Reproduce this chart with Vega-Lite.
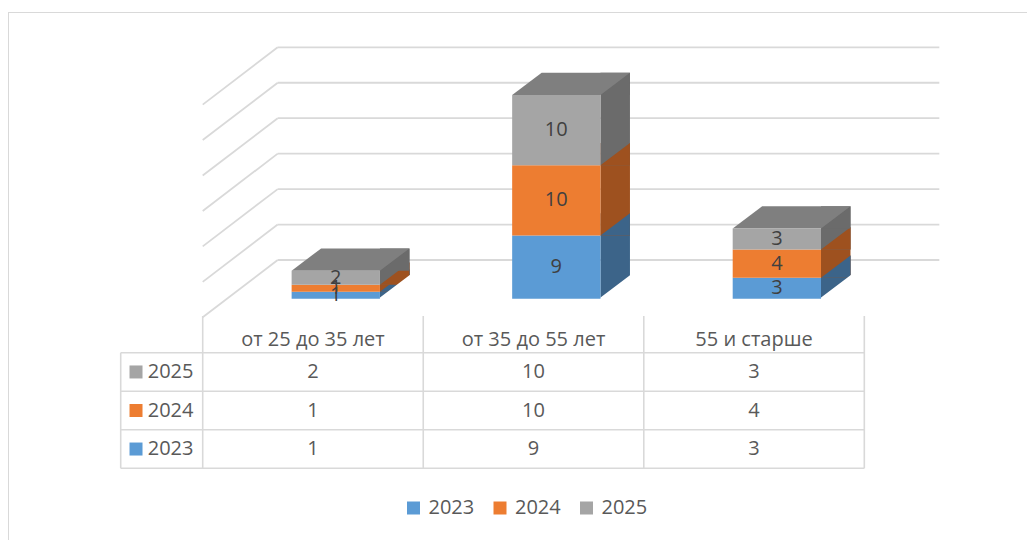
{
  "$schema": "https://vega.github.io/schema/vega-lite/v6.json",
  "width": 1019,
  "height": 528,
  "padding": {"left": 8, "top": 12, "right": 0, "bottom": 0},
  "autosize": {"type": "none"},
  "background": "white",
  "config": {"view": {"stroke": null}, "font": "Open Sans"},
  "datasets": {
    "bars": [
      {"cat": "от 25 до 35 лет", "year": "2023", "value": 1},
      {"cat": "от 25 до 35 лет", "year": "2024", "value": 1},
      {"cat": "от 25 до 35 лет", "year": "2025", "value": 2},
      {"cat": "от 35 до 55 лет", "year": "2023", "value": 9},
      {"cat": "от 35 до 55 лет", "year": "2024", "value": 10},
      {"cat": "от 35 до 55 лет", "year": "2025", "value": 10},
      {"cat": "55 и старше", "year": "2023", "value": 3},
      {"cat": "55 и старше", "year": "2024", "value": 4},
      {"cat": "55 и старше", "year": "2025", "value": 3}
    ],
    "grid": [{"v": 0}, {"v": 5}, {"v": 10}, {"v": 15}, {"v": 20}, {"v": 25}, {"v": 30}]
  },
  "resolve": {"scale": {"y": "independent", "color": "independent"}, "axis": {"y": "independent"}},
  "layer": [
    {
      "data": {"name": "grid"},
      "layer": [
        {
          "mark": {"type": "rule", "color": "#d9d9d9", "strokeWidth": 1.8, "xOffset": 75, "x2Offset": 75},
          "encoding": {
            "x": {"datum": "от 25 до 35 лет", "type": "nominal", "bandPosition": 0,
              "scale": {"type": "band", "domain": ["от 25 до 35 лет", "от 35 до 55 лет", "55 и старше"], "paddingInner": 0, "paddingOuter": 0.8103, "align": 0.5448},
              "axis": null},
            "x2": {"datum": "55 и старше", "bandPosition": 1},
            "y": {"field": "v", "type": "quantitative",
              "scale": {"domain": [-39.492, 34.979], "nice": false, "zero": false},
              "axis": {"orient": "left", "domain": true, "domainColor": "#d9d9d9", "domainWidth": 1, "ticks": false, "labels": false, "grid": false, "title": null}}
          }
        },
        {
          "mark": {"type": "rule", "color": "#d9d9d9", "strokeWidth": 1.8, "xOffset": 75, "y2Offset": 57.3},
          "encoding": {
            "x": {"datum": "от 25 до 35 лет", "type": "nominal", "bandPosition": 0, "axis": null},
            "x2": {"datum": "от 25 до 35 лет", "bandPosition": 0},
            "y": {"field": "v", "type": "quantitative", "scale": {"domain": [-39.492, 34.979], "nice": false, "zero": false}},
            "y2": {"field": "v"}
          }
        },
        {
          "transform": [{"filter": "datum.v == 0"}],
          "mark": {"type": "rule", "color": "#d9d9d9", "strokeWidth": 1},
          "encoding": {
            "y": {"datum": 34.9085, "type": "quantitative", "scale": {"domain": [-39.492, 34.979], "nice": false, "zero": false}}
          }
        }
      ]
    },
    {
      "data": {"name": "bars"},
      "transform": [
        {"stack": "value", "groupby": ["cat"], "sort": [{"field": "year", "order": "ascending"}], "as": ["y0", "y1"]}
      ],
      "resolve": {"scale": {"color": "independent"}},
      "layer": [
        {
          "mark": {"type": "bar", "width": 29.5, "xOffset": 81.7, "yOffset": -22.3},
          "encoding": {
            "x": {"field": "cat", "type": "nominal", "axis": null},
            "y": {"field": "y1", "type": "quantitative", "scale": {"domain": [-34.31, 40.797], "nice": false, "zero": false}, "axis": null},
            "y2": {"field": "y0"},
            "color": {"field": "year", "type": "nominal", "scale": {"domain": ["2023", "2024", "2025"], "range": ["#3c6489", "#9e511f", "#6b6b6b"]}, "legend": null}
          }
        },
        {
          "mark": {"type": "point", "shape": "M-1,0.756L1,-0.756L1,0.756Z", "size": 870.25, "filled": true, "opacity": 1, "strokeWidth": 0, "xOffset": 81.7, "yOffset": -11.15},
          "encoding": {
            "x": {"field": "cat", "type": "nominal", "axis": null},
            "y": {"field": "y1", "type": "quantitative", "scale": {"domain": [-34.31, 40.797], "nice": false, "zero": false}, "axis": null},
            "color": {"field": "year", "type": "nominal", "scale": {"domain": ["2023", "2024", "2025"], "range": ["#3c6489", "#9e511f", "#6b6b6b"]}, "legend": null}
          }
        },
        {
          "transform": [{"filter": "datum.year == '2025'"}],
          "mark": {"type": "point", "shape": "M-1,0.1893L0.4992,0.1893L1,-0.1893L-0.4992,-0.1893Z", "size": 13877, "filled": true, "opacity": 1, "strokeWidth": 0, "xOffset": 37.55, "yOffset": -11.15, "color": "#7f7f7f"},
          "encoding": {
            "x": {"field": "cat", "type": "nominal", "axis": null},
            "y": {"field": "y1", "type": "quantitative", "scale": {"domain": [-34.31, 40.797], "nice": false, "zero": false}, "axis": null}
          }
        },
        {
          "transform": [{"filter": "datum.year == '2023'"}],
          "mark": {"type": "point", "shape": "M-1,0.756L1,-0.756L1,0.756Z", "size": 870.25, "filled": true, "opacity": 1, "fill": "#ffffff", "stroke": "#ffffff", "strokeWidth": 2, "xOffset": 81.7, "yOffset": -11.15},
          "encoding": {
            "x": {"field": "cat", "type": "nominal", "axis": null},
            "y": {"field": "y0", "type": "quantitative", "scale": {"domain": [-34.31, 40.797], "nice": false, "zero": false}, "axis": null}
          }
        },
        {
          "mark": {"type": "bar", "width": 88.3, "xOffset": 22.8},
          "encoding": {
            "x": {"field": "cat", "type": "nominal", "axis": null},
            "y": {"field": "y1", "type": "quantitative", "scale": {"domain": [-34.31, 40.797], "nice": false, "zero": false}, "axis": null},
            "y2": {"field": "y0"},
            "color": {"field": "year", "type": "nominal", "scale": {"domain": ["2023", "2024", "2025"], "range": ["#5b9bd5", "#ed7d31", "#a5a5a5"]},
              "legend": {"orient": "none", "legendX": 395.5, "legendY": 486, "direction": "horizontal", "title": null, "symbolType": "square", "symbolSize": 169, "symbolStrokeWidth": 0, "labelFontSize": 20, "labelFont": "Open Sans", "labelColor": "#595959", "labelOffset": 5, "columnPadding": 15.5, "padding": 0}}
          }
        },
        {
          "transform": [{"fold": ["y0", "y1"], "as": ["k", "v"]}],
          "mark": {"type": "text", "xOffset": 22.8, "fontSize": 20, "color": "#404040", "font": "Open Sans", "baseline": "middle"},
          "encoding": {
            "x": {"field": "cat", "type": "nominal", "axis": null},
            "y": {"aggregate": "mean", "field": "v", "type": "quantitative", "scale": {"domain": [-34.31, 40.797], "nice": false, "zero": false}, "axis": null},
            "detail": {"field": "year"},
            "text": {"field": "value", "type": "quantitative"}
          }
        }
      ]
    },
    {
      "data": {"name": "bars"},
      "resolve": {"scale": {"color": "independent"}},
      "layer": [
        {
          "transform": [{"filter": "datum.cat == 'от 25 до 35 лет'"}],
          "mark": {"type": "rule", "color": "#d9d9d9", "strokeWidth": 1.6, "xOffset": -82},
          "encoding": {
            "x": {"datum": "от 25 до 35 лет", "type": "nominal", "bandPosition": 0, "axis": null},
            "x2": {"datum": "55 и старше", "bandPosition": 1},
            "y": {"field": "year", "type": "nominal", "bandPosition": 0,
              "scale": {"type": "band", "domain": ["2025", "2024", "2023"], "range": [340.7, 456.3], "paddingInner": 0, "paddingOuter": 0}, "axis": null}
          }
        },
        {
          "transform": [{"filter": "datum.cat == 'от 25 до 35 лет' && datum.year == '2023'"}],
          "mark": {"type": "rule", "color": "#d9d9d9", "strokeWidth": 1.6, "xOffset": -82},
          "encoding": {
            "x": {"datum": "от 25 до 35 лет", "type": "nominal", "bandPosition": 0, "axis": null},
            "x2": {"datum": "55 и старше", "bandPosition": 1},
            "y": {"field": "year", "type": "nominal", "bandPosition": 1, "axis": null}
          }
        },
        {
          "transform": [{"filter": "datum.year == '2023'"}],
          "mark": {"type": "rule", "color": "#d9d9d9", "strokeWidth": 1.6, "yOffset": -36.7},
          "encoding": {
            "x": {"field": "cat", "type": "nominal", "bandPosition": 0, "axis": null},
            "y": {"datum": "2025", "type": "nominal", "bandPosition": 0, "axis": null},
            "y2": {"datum": "2023", "bandPosition": 1}
          }
        },
        {
          "transform": [{"filter": "datum.cat == 'от 25 до 35 лет' && datum.year == '2023'"}],
          "mark": {"type": "rule", "color": "#d9d9d9", "strokeWidth": 1.6, "yOffset": -36.7},
          "encoding": {
            "x": {"datum": "55 и старше", "type": "nominal", "bandPosition": 1, "axis": null},
            "y": {"datum": "2025", "type": "nominal", "bandPosition": 0, "axis": null},
            "y2": {"datum": "2023", "bandPosition": 1}
          }
        },
        {
          "transform": [{"filter": "datum.cat == 'от 25 до 35 лет' && datum.year == '2023'"}],
          "mark": {"type": "rule", "color": "#d9d9d9", "strokeWidth": 1.6, "xOffset": -82},
          "encoding": {
            "x": {"datum": "от 25 до 35 лет", "type": "nominal", "bandPosition": 0, "axis": null},
            "y": {"datum": "2025", "type": "nominal", "bandPosition": 0, "axis": null},
            "y2": {"datum": "2023", "bandPosition": 1}
          }
        },
        {
          "transform": [{"filter": "datum.year == '2023'"}],
          "mark": {"type": "text", "fontSize": 20, "color": "#595959", "font": "Open Sans", "baseline": "middle", "yOffset": -12.7},
          "encoding": {
            "x": {"field": "cat", "type": "nominal", "axis": null},
            "y": {"datum": "2025", "type": "nominal", "bandPosition": 0, "axis": null},
            "text": {"field": "cat"}
          }
        },
        {
          "transform": [{"filter": "datum.cat == 'от 25 до 35 лет'"}],
          "mark": {"type": "point", "shape": "square", "size": 169, "filled": true, "opacity": 1, "strokeWidth": 0, "xOffset": -66.7},
          "encoding": {
            "x": {"datum": "от 25 до 35 лет", "type": "nominal", "bandPosition": 0, "axis": null},
            "y": {"field": "year", "type": "nominal", "axis": null},
            "color": {"field": "year", "type": "nominal", "scale": {"domain": ["2023", "2024", "2025"], "range": ["#5b9bd5", "#ed7d31", "#a5a5a5"]}, "legend": null}
          }
        },
        {
          "transform": [{"filter": "datum.cat == 'от 25 до 35 лет'"}],
          "mark": {"type": "text", "fontSize": 20, "color": "#595959", "font": "Open Sans", "baseline": "middle", "align": "left", "xOffset": -55},
          "encoding": {
            "x": {"datum": "от 25 до 35 лет", "type": "nominal", "bandPosition": 0, "axis": null},
            "y": {"field": "year", "type": "nominal", "axis": null},
            "text": {"field": "year"}
          }
        },
        {
          "mark": {"type": "text", "fontSize": 20, "color": "#595959", "font": "Open Sans", "baseline": "middle"},
          "encoding": {
            "x": {"field": "cat", "type": "nominal", "axis": null},
            "y": {"field": "year", "type": "nominal", "axis": null},
            "text": {"field": "value", "type": "quantitative"}
          }
        }
      ]
    }
  ]
}
